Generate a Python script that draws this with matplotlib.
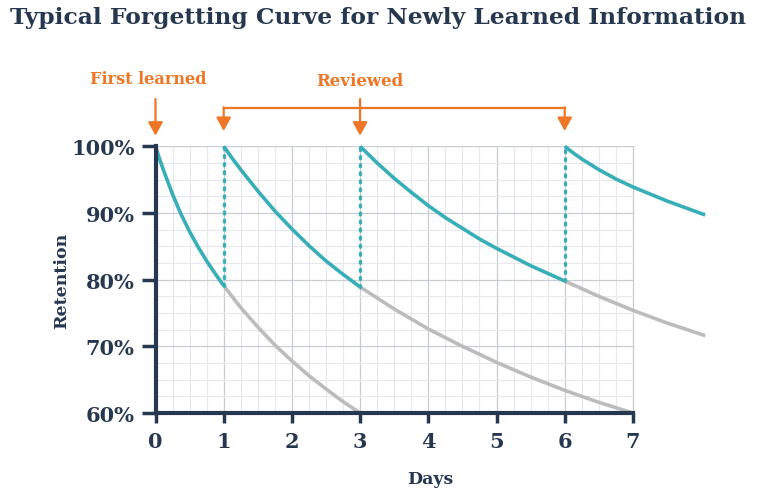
import matplotlib
matplotlib.use('Agg')
from matplotlib import pyplot as plt
import numpy as np

# Farger
navy = '#263850'
teal = '#38aeb8'
grey = '#bcbcbc'
orange = '#ee7624'

# Kurvor (dagar, retention i %)
first_days = [0, 0.0625, 0.125, 0.25, 0.375, 0.5, 0.625, 0.75, 0.875, 1]
first_ret = [100, 98.0, 96.2, 92.8, 89.8, 87.2, 84.9, 82.8, 80.9, 79.1]
first_fade_days = [1, 1.25, 1.5, 1.75, 2, 2.25, 2.5, 2.75, 3]
first_fade_ret = [79.1, 75.8, 72.9, 70.2, 67.8, 65.6, 63.6, 61.7, 60]

rev1_days = [1, 1.125, 1.25, 1.5, 1.75, 2, 2.25, 2.5, 2.75, 3]
rev1_ret = [100, 98.2, 96.5, 93.3, 90.3, 87.6, 85.1, 82.8, 80.8, 78.9]
rev1_fade_days = [3, 3.5, 4, 4.5, 5, 5.5, 6, 6.5, 7]
rev1_fade_ret = [78.9, 75.6, 72.6, 70.0, 67.6, 65.4, 63.4, 61.6, 60]

rev2_days = [3, 3.25, 3.5, 3.75, 4, 4.25, 4.5, 4.75, 5, 5.5, 6]
rev2_ret = [100, 97.5, 95.2, 93.1, 91.1, 89.3, 87.7, 86.1, 84.7, 82.1, 79.8]
rev2_fade_days = [6, 6.5, 7, 7.5, 8.06]
rev2_fade_ret = [79.8, 77.5, 75.4, 73.5, 71.6]

rev3_days = [6, 6.125, 6.25, 6.5, 6.75, 7, 7.5, 8.06]
rev3_ret = [100, 99.0, 98.1, 96.5, 95.1, 93.9, 91.8, 89.7]

review_days = [1, 3, 6]
x_ticks = [0, 1, 2, 3, 4, 5, 6, 7]
y_ticks = [60, 70, 80, 90, 100]
y_labels = ['60%', '70%', '80%', '90%', '100%']

plt.rcParams['font.family'] = ['DejaVu Serif']
plt.rcParams['font.weight'] = 'bold'
plt.rcParams['axes.labelweight'] = 'bold'
plt.rcParams['lines.scale_dashes'] = False

fig = plt.figure(figsize=(7.64, 5.02), dpi=100)
ax = fig.add_axes([155.5/764, 1 - 414/502, 8.06*68.2/764, 266.7/502])
ax.set_xlim(0, 8.06)
ax.set_ylim(60, 100)

# rutnät
for x in np.arange(0, 7.01, 0.25):
    major = abs(x - round(x)) < 1e-9
    ax.plot([x, x], [60, 100], color='#c9cdd4' if major else '#e6e8ec',
            lw=0.9 if major else 0.8, zorder=1)
for y in np.arange(60, 100.01, 2.5):
    major = abs(y % 10) < 1e-9
    ax.plot([0, 7], [y, y], color='#c9cdd4' if major else '#e6e8ec',
            lw=0.9 if major else 0.8, zorder=1)

lw = 2.6
for d, r in [(first_fade_days, first_fade_ret), (rev1_fade_days, rev1_fade_ret),
             (rev2_fade_days, rev2_fade_ret)]:
    ax.plot(d, r, color=grey, lw=lw, zorder=3, clip_on=False, solid_capstyle='butt')
for d, r in [(first_days, first_ret), (rev1_days, rev1_ret),
             (rev2_days, rev2_ret), (rev3_days, rev3_ret)]:
    ax.plot(d, r, color=teal, lw=lw, zorder=4, clip_on=False, solid_capstyle='butt')

# prickade lodlinjer vid repetition
ends = [first_ret[-1], rev1_ret[-1], rev2_ret[-1]]
for d, r in zip(review_days, ends):
    ax.plot([d, d], [r, 100], color=teal, lw=2.4, dashes=(1.4, 4.4),
            dash_capstyle='round', zorder=5, clip_on=False)

# axlar
for s in ['top', 'right']:
    ax.spines[s].set_visible(False)
for s in ['left', 'bottom']:
    ax.spines[s].set_linewidth(3)
    ax.spines[s].set_color(navy)
    ax.spines[s].set_zorder(6)
ax.spines['bottom'].set_bounds(0, 7)
ax.spines['left'].set_bounds(60, 100)
ax.set_xticks(x_ticks)
ax.set_yticks(y_ticks)
ax.set_yticklabels(y_labels)
ax.tick_params(axis='y', length=10, width=2.5, color=navy, pad=5,
               labelsize=15, labelcolor=navy)
ax.tick_params(axis='x', length=7, width=2.5, color=navy, pad=6,
               labelsize=15, labelcolor=navy)
ax.set_xlabel('Days', fontsize=12.5, color=navy, labelpad=14)
ax.set_ylabel('Retention', fontsize=12.5, color=navy, labelpad=1)

# pilar och etiketter
arrow = dict(arrowstyle='-|>,head_length=0.4,head_width=0.22', color=orange,
             lw=1.6, shrinkA=0, shrinkB=0, mutation_scale=20)
ax.annotate('', xy=(0, 101.6), xytext=(0, 107.1), arrowprops=arrow, annotation_clip=False)
ax.annotate('', xy=(3, 101.6), xytext=(3, 107.1), arrowprops=arrow, annotation_clip=False)
ax.annotate('', xy=(1, 102.3), xytext=(1, 105.85), arrowprops=arrow, annotation_clip=False)
ax.annotate('', xy=(6, 102.3), xytext=(6, 105.85), arrowprops=arrow, annotation_clip=False)
ax.plot([1, 6], [105.7, 105.7], color=orange, lw=1.6, clip_on=False, solid_capstyle='projecting')
ax.text(-0.1, 110.1, 'First learned', color=orange, fontsize=11.6, ha='center', va='center')
ax.text(3, 109.9, 'Reviewed', color=orange, fontsize=12, ha='center', va='center')

fig.text(10/764, 1 - 18/502, 'Typical Forgetting Curve for Newly Learned Information',
         color=navy, fontsize=16.8, ha='left', va='center')

fig.savefig('out.png', dpi=100)
